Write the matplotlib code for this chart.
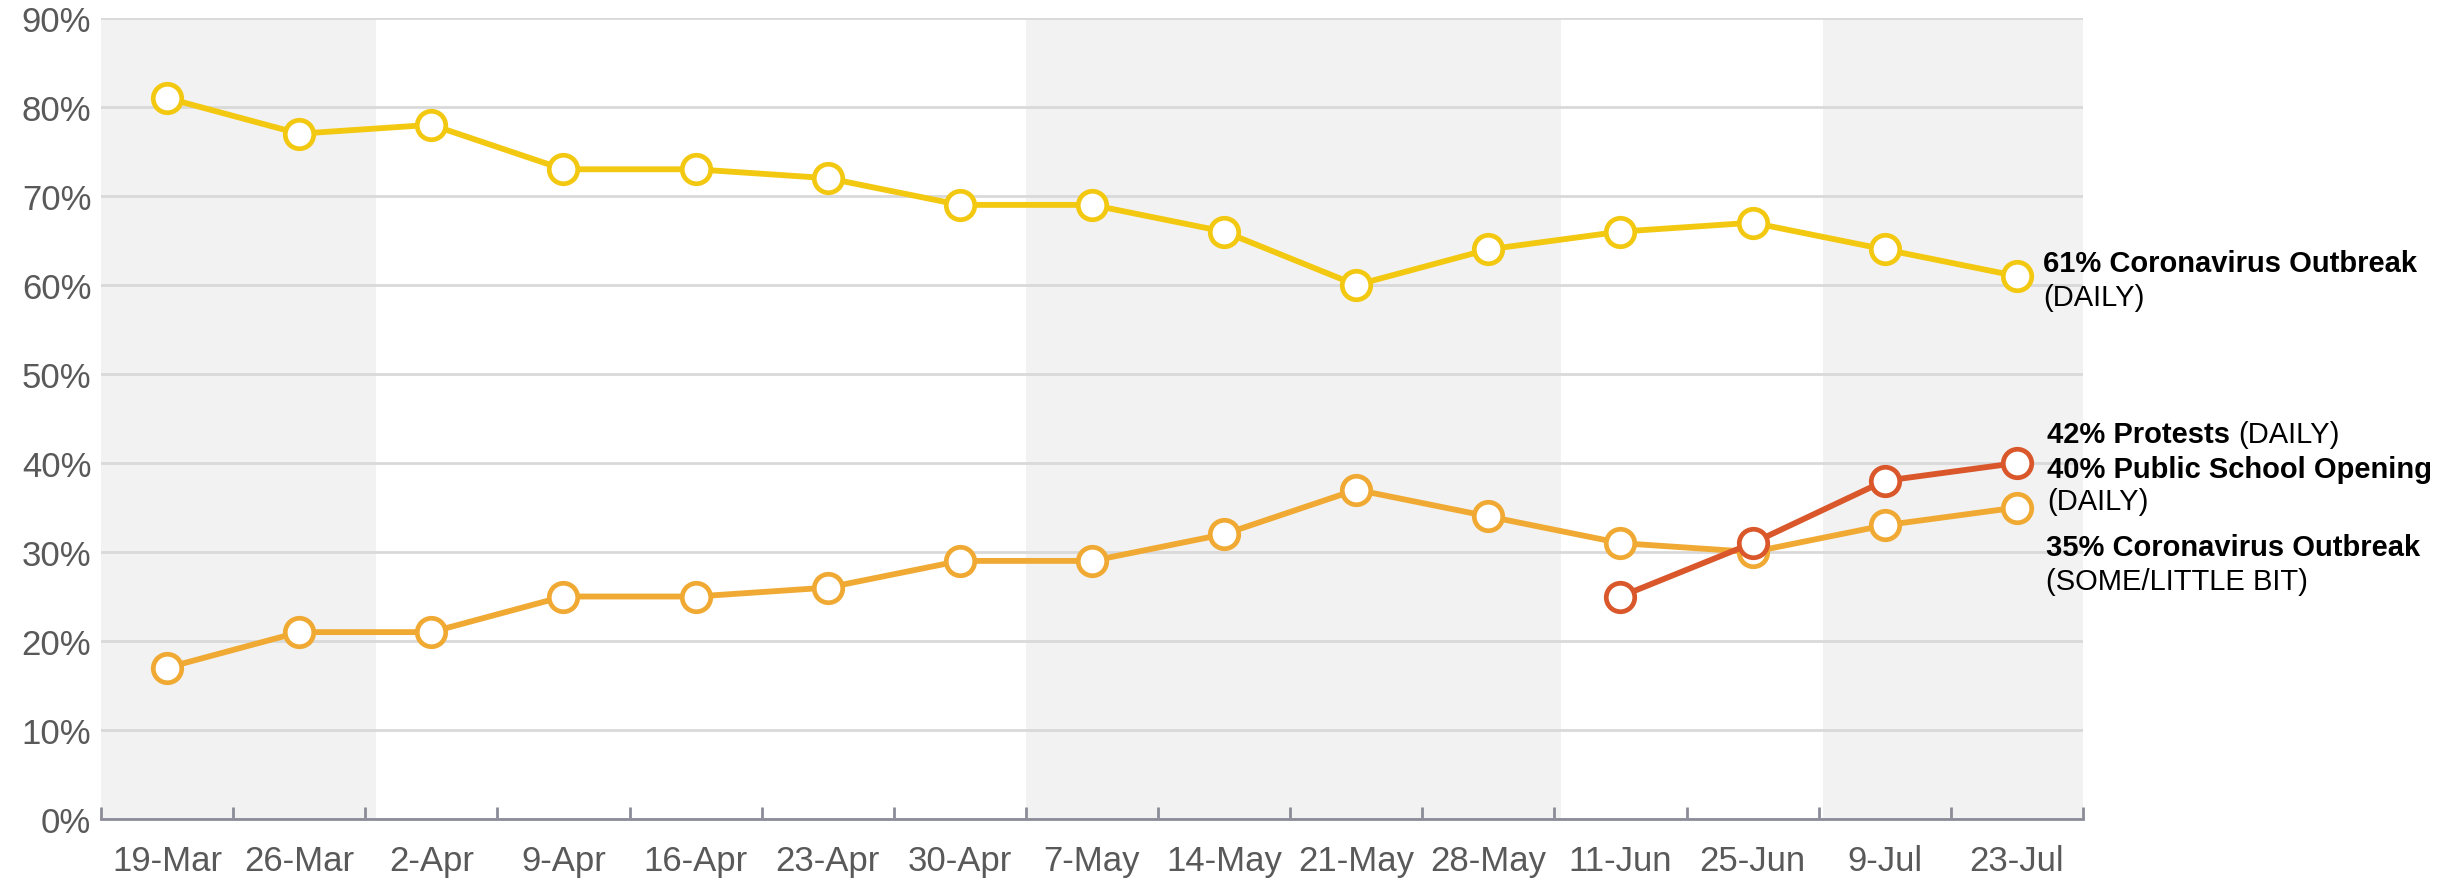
import numpy as np
import matplotlib
matplotlib.use("Agg")
import matplotlib.pyplot as plt

plt.rcParams['font.family'] = ['Liberation Sans', 'DejaVu Sans']

dates = ["19-Mar", "26-Mar", "2-Apr", "9-Apr", "16-Apr", "23-Apr", "30-Apr", "7-May",
         "14-May", "21-May", "28-May", "11-Jun", "25-Jun", "9-Jul", "23-Jul"]
corona_daily = [81, 77, 78, 73, 73, 72, 69, 69, 66, 60, 64, 66, 67, 64, 61]
corona_some = [17, 21, 21, 25, 25, 26, 29, 29, 32, 37, 34, 31, 30, 33, 35]
school_daily = [np.nan] * 11 + [25, 31, 38, 40]

yellow = "#F2C811"
orange = "#F0AA33"
red = "#D9572A"
shade = "#F2F2F2"

fig = plt.figure(figsize=(24.41, 8.79), dpi=100)
ax = fig.add_axes([0.0414, 0.0671, 0.8119, 0.9113])

x = np.arange(len(dates))
# month shading bands
for a, b in [(-0.5, 1.58), (6.5, 10.55), (12.53, 14.5)]:
    ax.axvspan(a, b, color=shade, zorder=0, lw=0)

ax.set_xlim(-0.5, len(dates) - 0.5)
ax.set_ylim(0, 90)
ax.set_yticks(np.arange(0, 91, 10))
ax.set_yticklabels([f"{v}%" for v in range(0, 91, 10)])
ax.yaxis.grid(True, color="#D9D9D9", lw=2)
ax.set_axisbelow(True)

for s in ["top", "right", "left"]:
    ax.spines[s].set_visible(False)
ax.spines["bottom"].set_color("#8C8C99")
ax.spines["bottom"].set_linewidth(2)
ax.spines["bottom"].set_zorder(1)

ax.set_xticks(np.arange(-0.5, len(dates), 1.0))
ax.set_xticklabels([])
ax.set_xticks(x, minor=True)
ax.set_xticklabels(dates, minor=True)
ax.tick_params(axis="x", which="major", direction="in", length=9, width=2, color="#8C8C99")
ax.tick_params(axis="x", which="minor", length=0, pad=18, labelsize=25, labelcolor="#595959")
ax.tick_params(axis="y", length=0, pad=7, labelsize=25, labelcolor="#595959")

mk = dict(marker="o", markersize=20.5, markerfacecolor="white", markeredgewidth=3.4, lw=4.2)
ax.plot(x, corona_daily, color=yellow, zorder=3, **mk)
ax.plot(x, corona_some, color=orange, zorder=3, **mk)
ax.plot(x, school_daily, color=red, zorder=4, **mk)

FS = 21

def label(xp, yp, bold, normal=None):
    t = ax.text(xp, yp, bold, fontsize=FS, fontweight="bold", va="center", ha="left",
                color="black", zorder=5)
    if normal:
        ax.annotate(normal, xy=(1, 0.5), xycoords=t, xytext=(6, 0), textcoords="offset points",
                    fontsize=FS, va="center", ha="left", color="black", zorder=5)
    return t

lx = 14.2
label(lx, 62.5, "61% Coronavirus Outbreak")
ax.text(lx, 58.7, "(DAILY)", fontsize=FS, va="center", ha="left", zorder=5)
label(lx + 0.03, 43.3, "42% Protests", "(DAILY)")
label(lx + 0.03, 39.3, "40% Public School Opening")
ax.text(lx + 0.03, 35.7, "(DAILY)", fontsize=FS, va="center", ha="left", zorder=5)
label(lx + 0.02, 30.6, "35% Coronavirus Outbreak")
ax.text(lx + 0.02, 26.7, "(SOME/LITTLE BIT)", fontsize=FS, va="center", ha="left", zorder=5)

fig.savefig("out.png", dpi=100)
